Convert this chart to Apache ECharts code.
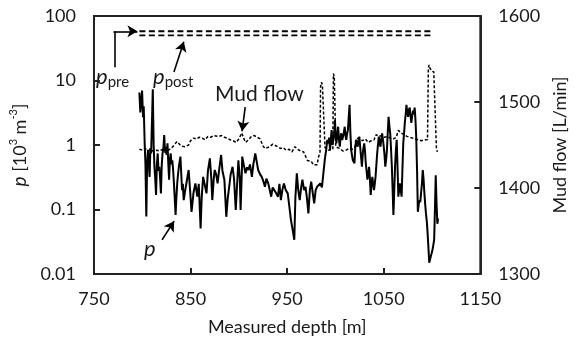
<!DOCTYPE html>
<html>
<head>
<meta charset="utf-8">
<script src="https://cdn.jsdelivr.net/npm/echarts@6/dist/echarts.min.js"></script>
<style>
html,body{margin:0;padding:0;background:#fff;}
#c{width:577px;height:343px;}
</style>
</head>
<body>
<div id="c"></div>
<script>
// x ticks (Measured depth, m)
const xTicks = [750, 850, 950, 1050, 1150];
// left axis ticks (p, 10^3 m^-3) log scale
const pTicks = [0.01, 0.1, 1, 10, 100];
// right axis ticks (Mud flow, L/min)
const flowTicks = [1300, 1400, 1500, 1600];

// p series: [depth m, p]
const pData = [
[797,6.5],[798,3.2],[799,5.0],[799.8,7.0],[800.8,2.7],[801.5,4.0],[802.5,1.06],[803.3,0.5],[804.2,0.078],[805,0.5],
[805.9,0.84],[806.8,0.5],[807.6,0.32],[808.4,0.9],[809.2,0.74],[810.9,7.3],[811.8,1.0],[812.6,0.46],[813.4,0.3],[814.3,0.168],
[815.1,0.5],[816,0.74],[816.8,0.4],[817.7,0.46],[818.5,0.3],[819.3,0.178],[820.2,0.5],[821,0.74],[821.9,0.9],[822.7,1.43],
[823.5,0.8],[824.4,0.94],[825.2,0.7],[826.1,1.06],[827,0.5],[827.8,0.29],[828.6,0.6],[829.4,0.74],[830.3,0.5],[831.1,0.58],
[832,0.4],[832.8,0.254],[833.6,0.15],[834.5,0.082],[835.3,0.15],[836.2,0.254],[837,0.35],[837.9,0.46],[838.7,0.55],[839.5,0.66],
[840.4,0.35],[841.2,0.2],[842,0.25],[842.9,0.14],[844.5,0.2],[846.5,0.3],[848,0.41],[849.5,0.2],[851,0.092],[853,0.18],
[855,0.254],[857,0.158],[858.5,0.25],[860.4,0.051],[861.5,0.15],[863,0.32],[864.5,0.25],[866.5,0.178],[868,0.4],[870,0.62],
[871.5,0.3],[872.5,0.14],[874,0.3],[875,0.41],[876.5,0.35],[878,0.254],[879.5,0.4],[881.6,0.70],[883,0.4],[885,0.29],
[887,0.077],[888.5,0.15],[890,0.225],[891.5,0.35],[893.5,0.46],[895,0.3],[896.8,0.098],[898.5,0.3],[899.5,0.58],[901,0.3],
[901.8,0.098],[903,0.35],[903.5,0.66],[905,0.5],[906.9,0.364],[908.5,0.45],[910,0.41],[911.5,0.5],[913.5,0.32],[915,0.5],
[917,0.74],[918.5,0.55],[920,0.41],[922,0.35],[923.7,0.32],[925.5,0.27],[927,0.225],[928.5,0.3],[930.4,0.254],[932,0.2],
[933.5,0.158],[935,0.22],[937,0.225],[938.5,0.18],[940.5,0.158],[942,0.25],[943.5,0.14],[945,0.2],[946.7,0.254],[948.5,0.2],
[950.6,0.178],[952,0.12],[954,0.068],[955.5,0.05],[957.4,0.034],[958.5,0.15],[960,0.364],[961.5,0.2],[963,0.14],[964.5,0.22],
[965.8,0.29],[967.5,0.2],[969,0.225],[970.5,0.15],[972,0.087],[973.5,0.2],[974.9,0.27],[976.5,0.18],[978,0.124],[979.5,0.2],
[981,0.225],[982.5,0.24],[984.3,0.254],[986,0.22],[987.7,0.225],[989,0.6],[990.4,0.84],[991.5,1.2],[992.7,1.06],[993.5,1.3],
[994.4,0.84],[995.2,1.2],[996,1.7],[997,1.0],[997.8,0.94],[998.7,1.5],[999.5,2.44],[1000.3,1.3],[1001,1.06],[1002,1.5],
[1002.8,1.92],[1003.7,1.2],[1004.5,0.94],[1005.3,1.3],[1006,1.52],[1007,1.2],[1007.9,1.35],[1008.8,1.6],[1009.6,1.92],[1010.4,1.4],
[1011.2,1.2],[1012,1.5],[1012.9,1.7],[1013.8,2.8],[1014.6,4.2],[1015.5,1.5],[1016.3,0.84],[1017.1,0.7],[1018,0.58],[1019,0.6],
[1019.7,0.52],[1020.5,0.9],[1021.3,1.2],[1022.2,1.1],[1023,0.94],[1024,1.2],[1024.7,1.35],[1026,0.8],[1027.4,0.46],[1028.5,0.8],
[1029.8,1.06],[1030.6,0.8],[1031.4,0.52],[1032.2,0.4],[1033.1,0.29],[1034,0.35],[1034.8,0.46],[1035.7,0.3],[1036.5,0.168],[1037.4,0.25],
[1038.2,0.32],[1039,0.25],[1039.9,0.2],[1040.7,0.25],[1041.5,0.32],[1042.4,0.5],[1043.2,0.74],[1044,1.0],[1044.9,1.35],[1045.8,1.1],
[1046.6,0.94],[1047.4,1.2],[1048.3,1.52],[1049.2,1.2],[1050,0.94],[1050.8,0.7],[1051.6,0.46],[1052.5,0.6],[1053.3,0.84],[1054.1,1.5],
[1055,2.74],[1055.8,2.0],[1056.7,1.52],[1057.5,0.9],[1058.4,0.46],[1059.2,0.2],[1060,0.082],[1060.9,0.2],[1061.7,0.46],[1062.5,0.8],
[1063.4,1.2],[1064.2,0.5],[1065.1,0.158],[1066,0.2],[1066.8,0.254],[1067.6,0.2],[1068.5,0.158],[1069.3,0.4],[1070.2,1.06],[1071,1.5],
[1071.8,2.2],[1072.7,3.0],[1073.5,4.2],[1074.3,3.2],[1075.2,2.74],[1076,3.5],[1076.9,3.8],[1077.7,2.8],[1078.6,2.2],[1079.4,2.8],
[1080.3,3.4],[1081.1,3.0],[1082,3.8],[1082.8,2.5],[1083.6,1.35],[1084.5,0.4],[1085.3,0.092],[1086.2,0.12],[1087,0.14],[1087.8,0.13],
[1088.7,0.124],[1089.5,0.25],[1090.4,0.41],[1091.2,0.3],[1092.1,0.178],[1092.9,0.12],[1093.7,0.087],[1094.6,0.065],[1095.4,0.043],[1096.3,0.025],
[1097.1,0.015],[1098,0.017],[1098.8,0.019],[1099.6,0.021],[1100.5,0.024],[1101.3,0.028],[1102.2,0.034],[1103,0.1],[1103.8,0.34],[1104.7,0.12],
[1105.5,0.06],[1106.2,0.073]
];

// Mud flow series: [depth m, L/min]
const flowData = [
[797,1445],[800,1444],[803,1446],[806,1443],[809,1445],[812,1442],[815,1444],[818,1443],[821,1445],[824,1441],
[827,1444],[830,1446],[833,1450],[836,1454],[838,1452],[840,1449],[842,1451],[844,1448],[846,1447],[848,1450],
[850,1455],[853,1458],[856,1457],[859,1459],[862,1458],[865,1456],[868,1460],[871,1459],[874,1461],[876,1462],
[879,1460],[882,1461],[885,1459],[888,1458],[891,1456],[894,1455],[897,1453],[900,1457],[903,1464],[905,1458],
[907,1453],[910,1456],[913,1460],[916,1461],[919,1459],[922,1457],[925,1449],[927,1446],[929,1444],[932,1448],
[935,1451],[937,1452],[940,1448],[943,1446],[946,1447],[949,1444],[952,1445],[955,1442],[958,1448],[961,1445],
[964,1443],[967,1442],[969,1440],[971,1432],[973,1430],[975,1431],[977,1427],[979,1428],[981,1427],[982.5,1436],
[984,1442],[984.6,1518],[985.5,1523],[986.5,1520],[988.3,1522],[989.2,1447],[991,1446],[993,1444],[995,1446],[997.3,1445],
[997.9,1533],[998.8,1530],[999.6,1528],[1000.3,1448],[1002,1447],[1004,1446],[1006,1445],[1008,1443],[1011,1444],[1014,1446],
[1017,1445],[1020,1447],[1022,1458],[1025,1457],[1028,1455],[1031,1457],[1034,1453],[1037,1455],[1040,1456],[1042,1462],
[1045,1460],[1048,1461],[1051,1459],[1054,1460],[1057,1458],[1060,1457],[1063,1459],[1065,1467],[1068,1464],[1071,1462],
[1074,1460],[1077,1459],[1080,1458],[1083,1457],[1086,1456],[1089,1455],[1092,1456],[1095.3,1456],[1096.2,1540],[1097,1543],
[1098,1539],[1099.5,1536],[1101.8,1535],[1103.5,1480],[1104.5,1446],[1105.5,1442]
];

// p_pre and p_post constant levels
const pPreData = [[797,58],[1100.5,58]];
const pPostData = [[797,50],[1100.5,50]];

const FONT = 'Lato';
const TXT = '#1a1a1a';

const chart = echarts.init(document.getElementById('c'), null, {renderer:'canvas'});

const arrowLine = {type:'solid', color:'#000', width:1.6};
const plain = v => String(+(+v).toPrecision(4));

chart.setOption({
  animation:false,
  backgroundColor:'#fff',
  grid:{left:88, right:93, top:16, bottom:69, show:true, borderColor:'#222', borderWidth:2, backgroundColor:'transparent'},
  xAxis:{
    type:'value', min:xTicks[0], max:xTicks[xTicks.length-1], interval:100,
    name:'Measured depth [m]', nameLocation:'middle', nameGap:44,
    nameTextStyle:{fontFamily:FONT, fontSize:18, color:TXT},
    axisLine:{lineStyle:{color:'#222', width:2}},
    axisTick:{inside:true, length:6, lineStyle:{color:'#222', width:2}},
    axisLabel:{fontFamily:FONT, fontSize:18, color:TXT, margin:16, formatter:plain},
    splitLine:{show:false}
  },
  yAxis:[{
    type:'log', logBase:10, min:pTicks[0], max:pTicks[pTicks.length-1],
    name:'{i|p} [10{s|3} m{s|-3}]', nameLocation:'middle', nameGap:50,
    nameTextStyle:{fontFamily:FONT, fontSize:18, color:TXT,
      rich:{i:{fontFamily:FONT, fontStyle:'italic', fontSize:19, color:TXT, lineHeight:24},
            s:{fontFamily:FONT, fontSize:11, color:TXT, verticalAlign:'top', lineHeight:24}}},
    axisLine:{show:true, lineStyle:{color:'#222', width:2}},
    axisTick:{show:true, inside:true, length:6, lineStyle:{color:'#222', width:2}},
    axisLabel:{fontFamily:FONT, fontSize:18, color:TXT, margin:18, formatter:plain},
    splitLine:{show:false}, minorTick:{show:false}
  },{
    type:'value', min:flowTicks[0], max:flowTicks[flowTicks.length-1], interval:100,
    position:'right',
    name:'Mud flow [L/min]', nameLocation:'middle', nameGap:62, nameRotate:90,
    nameTextStyle:{fontFamily:FONT, fontSize:18, color:TXT},
    axisLine:{show:true, lineStyle:{color:'#222', width:2}},
    axisTick:{show:true, inside:true, length:6, lineStyle:{color:'#222', width:2}},
    axisLabel:{fontFamily:FONT, fontSize:18, color:TXT, margin:18, formatter:plain},
    splitLine:{show:false}
  }],
  series:[
    {
      name:'p_pre', type:'line', yAxisIndex:0, data:pPreData, symbol:'none',
      lineStyle:{color:'#000', width:1.8, type:[6,3.5]}, silent:true,
      markLine:{silent:true, symbol:['none','none'], label:{show:false}, lineStyle:arrowLine,
        data:[[{coord:[771,16]},{coord:[771,58]}]]}
    },
    {
      name:'p_pre_arrow', type:'line', yAxisIndex:0, data:[], symbol:'none',
      markLine:{silent:true, symbol:['none','arrow'], symbolSize:[9,10], label:{show:false}, lineStyle:arrowLine,
        data:[
          [{coord:[770.2,58]},{coord:[795,58]}],
          [{coord:[832.8,13.5]},{coord:[843,40]}],
          [{coord:[820.5,0.034]},{coord:[833,0.066]}]
        ]}
    },
    {
      name:'p_post', type:'line', yAxisIndex:0, data:pPostData, symbol:'none',
      lineStyle:{color:'#000', width:1.8, type:[6,3.5]}, silent:true
    },
    {
      name:'Mud flow', type:'line', yAxisIndex:1, data:flowData, symbol:'none',
      lineStyle:{color:'#000', width:1.5, type:[3,2]}, silent:true,
      markLine:{silent:true, symbol:['none','arrow'], symbolSize:[9,10], label:{show:false}, lineStyle:arrowLine,
        data:[[{coord:[906.6,1494]},{coord:[903.3,1466]}]]}
    },
    {
      name:'p', type:'line', yAxisIndex:0, data:pData, symbol:'none',
      lineStyle:{color:'#000', width:2}, silent:true
    }
  ],
  graphic:[
    {type:'text', left:96, top:66, style:{text:'{i|p}{s|pre}', rich:{
      i:{fontFamily:FONT, fontStyle:'italic', fontSize:22, fill:TXT, lineHeight:26},
      s:{fontFamily:FONT, fontSize:15, fill:TXT, verticalAlign:'bottom', lineHeight:22}}}},
    {type:'text', left:153, top:66, style:{text:'{i|p}{s|post}', rich:{
      i:{fontFamily:FONT, fontStyle:'italic', fontSize:22, fill:TXT, lineHeight:26},
      s:{fontFamily:FONT, fontSize:15, fill:TXT, verticalAlign:'bottom', lineHeight:22}}}},
    {type:'text', left:215, top:84, style:{text:'Mud flow', fontFamily:FONT, fontSize:21, fill:TXT}},
    {type:'text', left:144, top:238, style:{text:'p', fontFamily:FONT, fontStyle:'italic', fontSize:22, fill:TXT}}
  ]
});
</script>
</body>
</html>
